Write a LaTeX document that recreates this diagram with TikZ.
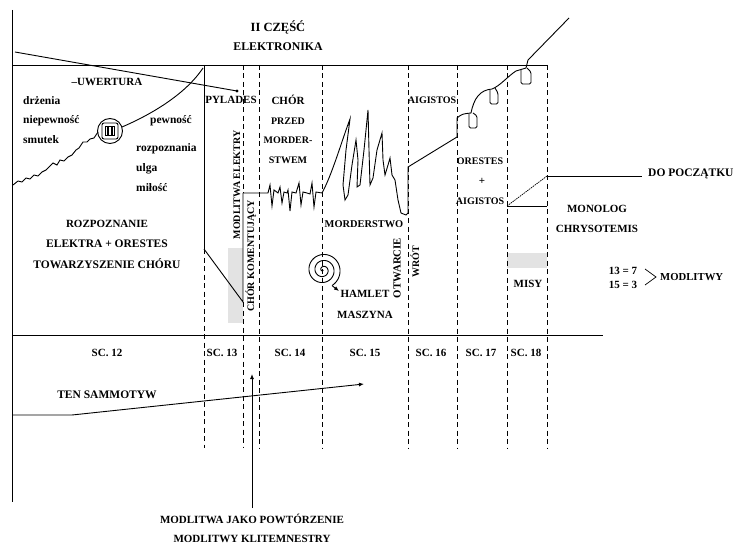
\documentclass[tikz,border=0pt]{standalone}
\usepackage{fontspec}
\setmainfont{Liberation Serif}
\usetikzlibrary{arrows.meta}
\begin{document}
\begin{tikzpicture}[x=1pt,y=-1pt,
  lbl/.style={font=\bfseries\fontsize{11}{13}\selectfont, inner sep=0pt},
  lnar/.style={font=\bfseries\fontsize{10}{12}\selectfont, inner sep=0pt},
  lsm/.style={font=\bfseries\fontsize{11.5}{13}\selectfont, inner sep=0pt},
  dsh/.style={dash pattern=on 5pt off 3.5pt, line width=0.9pt},
  ln/.style={line width=0.9pt},
  tip/.style={-{Latex[length=5pt,width=4pt]}},
  shade/.style={fill=black!11}]
\useasboundingbox (0,0) rectangle (735,545);

% grey bands
\fill[shade] (228,248) rectangle (243,323);
\fill[shade] (507,253) rectangle (547,268);

% axes and frame lines
\coordinate (axT) at (12,10);
\coordinate (axB) at (12,502);
\draw[ln] (axT) -- (axB);
\coordinate (topL) at (12,65);
\coordinate (topR) at (547,65);
\draw[ln] (topL) -- (topR);
\coordinate (midL) at (12,335);
\coordinate (midR) at (603,335);
\draw[ln] (midL) -- (midR);

% dividers
\foreach \x in {259,322,408,457,507,547} {\draw[dsh] (\x,65) -- (\x,448);}
\coordinate (d1a) at (204,65);
\coordinate (d1b) at (204,249);
\draw[ln] (d1a) -- (d1b);
\draw[dsh] (d1b) -- (204,448);
\coordinate (d2a) at (243,193);
\coordinate (d2b) at (243,302);
\draw[dsh] (243,65) -- (d2a);
\draw[dsh] (d2b) -- (243,448);
\draw[ln] (d1b) -- (d2b) -- (d2a);

% zigzag and spikes
\draw[ln] (d2a) -- (266,193) -- (268,193) -- (270,185) -- (272,206) -- (274,190) -- (278,193)
  -- (280,187) -- (282,203) -- (284,192) -- (287,193) -- (288,190) -- (290,211) -- (292,192)
  -- (296,193) -- (299,183) -- (301,205) -- (303,192) -- (307,193) -- (310,194)
  -- (312,183) -- (314,207) -- (316,192) -- (322,193)
  .. controls (332,175) and (342,140) .. (350,119)
  -- (346,150) -- (343,185) -- (345,200) -- (348,195) -- (352,165) -- (356,140)
  -- (358,160) -- (357,187) -- (360,185) -- (364,150) -- (368,110) -- (369,150)
  -- (370,185) -- (373,178) -- (377,150) -- (382,133) -- (383,160) -- (385,175)
  -- (388,165) -- (390,158) -- (392,175) -- (395,180) -- (398,200) -- (401,213)
  -- (406,215) -- (408,213) -- (408,167) -- (457,137) -- (457,118)
  .. controls (462,114) .. (471,113)
  .. controls (474,98) and (480,90) .. (492,89)
  .. controls (500,86) and (508,76) .. (516,71)
  -- (526,68) -- (528,60) coordinate (topend) -- (569,18) coordinate (farend);
% hooks
\draw[ln, rounded corners=1.5pt] (469,114) -- (469,128) -- (477,128) -- (477,116) -- (473,113);
\draw[ln, rounded corners=1.5pt] (490,90) -- (490,104) -- (498,104) -- (498,93) -- (495,88);
\draw[ln, rounded corners=1.5pt] (521,70) -- (521,84) -- (531,84) -- (531,72) -- (527,68);

% top-left falling line
\coordinate (fallA) at (15,52);
\coordinate (fallB) at (237,91);
\draw[ln] (fallA) -- (fallB);
\fill (fallB) circle (1.6);

% left rising wiggly curve with spiral
\coordinate (spL) at (110,131);
\draw[ln] (13,185) -- (18,181) -- (22,182) -- (26,178) -- (30,179) -- (34,175) -- (38,176)
  -- (42,172) -- (46,170) -- (50,166) -- (53,163) -- (57,165) -- (60,160) -- (64,161)
  -- (68,157) -- (72,155) -- (76,150) -- (79,148) -- (83,142) -- (87,142) -- (90,139)
  -- (94,138) -- (98,132);
\draw[ln] (122,127) .. controls (150,115) and (185,95) .. (203,68);
\draw[ln] (spL) circle (12.5);
\draw[ln, rounded corners=2pt] (102,123) rectangle (118,139);
\draw[ln] (105.5,126.5) rectangle (114.5,135.5);
\draw[line width=1.6pt] (108,127) -- (108,135) (112,127) -- (112,135);

% spiral near HAMLET
\coordinate (spC) at (323,270);
\draw[ln] plot[domain=0:3, samples=220, smooth]
  ({323 + 6*\x*cos(360*\x+60)}, {270 + 6*\x*sin(360*\x+60)});
\coordinate (spEnd) at (332,285.6);
\coordinate (hamArr) at (339,291);
\draw[ln, tip] (spEnd) -- (hamArr);

% AIGISTOS bracket and DO POCZATKU line
\coordinate (agA) at (507,206);
\coordinate (agB) at (547,206);
\coordinate (dpA) at (547,176);
\coordinate (dpB) at (642,176);
\draw[ln] (agA) -- (agB);
\draw[line width=0.7pt, dash pattern=on 1.5pt off 0.8pt] (agA) -- (dpA);
\draw[ln] (dpA) -- (dpB);

% TEN SAMMOTYW arrow
\coordinate (tsA) at (12,415);
\coordinate (tsB) at (72,415);
\coordinate (tsC) at (364,384);
\draw[ln, tip] (tsA) -- (tsB) -- (tsC);

% MODLITWA JAKO arrow
\coordinate (mjA) at (252,508);
\coordinate (mjB) at (252,374);
\draw[ln, tip] (mjA) -- (mjB);

% > bracket
\coordinate (brA) at (645,269);
\coordinate (brB) at (656,277);
\coordinate (brC) at (645,285);
\draw[line width=0.7pt] (brA) -- (brB) -- (brC);

% texts
\node[lbl, font=\bfseries\fontsize{12.5}{14}\selectfont] (t1) at (278,27) {II CZĘŚĆ};
\node[lbl, font=\bfseries\fontsize{11.8}{14}\selectfont] (t2) at (278,47) {ELEKTRONIKA};
\node[lbl] (uw) at (107,82) {–UWERTURA};
\node[lsm, anchor=west] (dr) at (23,101) {drżenia};
\node[lsm, anchor=west] (ni) at (23,121) {niepewność};
\node[lsm, anchor=west] (sm) at (23,140) {smutek};
\node[lsm, anchor=west] (pe) at (150,121) {pewność};
\node[lsm, anchor=west] (ro) at (136,149) {rozpoznania};
\node[lsm, anchor=west] (ul) at (136,169) {ulga};
\node[lsm, anchor=west] (mi) at (136,188) {miłość};
\node[lbl] (r1) at (107,224) {ROZPOZNANIE};
\node[lbl, font=\bfseries\fontsize{11.5}{13}\selectfont] (r2) at (107,244) {ELEKTRA + ORESTES};
\node[lbl, font=\bfseries\fontsize{11.5}{13}\selectfont] (r3) at (107,264) {TOWARZYSZENIE CHÓRU};
\node[lbl] (py) at (231,100) {PYLADES};
\node[lbl] (c1) at (288,100) {CHÓR};
\node[lnar] (c2) at (288,121) {PRZED};
\node[lnar] (c3) at (288,140) {MORDER-};
\node[lnar] (c4) at (288,160) {STWEM};
\node[lnar, rotate=90] (me) at (237,185) {MODLITWA ELEKTRY};
\node[lnar, rotate=90] (ck) at (251,256) {CHÓR KOMENTUJĄCY};
\node[lnar, font=\bfseries\fontsize{10.4}{12}\selectfont] (mo) at (364,224) {MORDERSTWO};
\node[lnar, rotate=90, font=\bfseries\fontsize{10.8}{12}\selectfont] (ot) at (397,268) {OTWARCIE};
\node[lnar, rotate=90] (wr) at (415,262) {WRÓT};
\node[lbl] (ha) at (365,294) {HAMLET};
\node[lbl] (ma) at (365,315) {MASZYNA};
\node[lnar] (ai) at (432,100) {AIGISTOS};
\node[lnar] (or) at (480,161) {ORESTES};
\node[lbl] (pl) at (482,181) {+};
\node[lnar] (ai2) at (480,201) {AIGISTOS};
\node[lbl, font=\bfseries\fontsize{11.5}{13}\selectfont, anchor=west] (dp) at (648,174) {DO POCZĄTKU};
\node[lbl] (mn) at (597,209) {MONOLOG};
\node[lbl] (ch) at (597,229) {CHRYSOTEMIS};
\node[lbl] (ms) at (528,284) {MISY};
\node[lbl] (e1) at (623,271) {13 = 7};
\node[lbl] (e2) at (623,285) {15 = 3};
\node[lbl, font=\bfseries\fontsize{10.7}{12}\selectfont, anchor=west] (mw) at (660,277) {MODLITWY};
\node[lbl] (s12) at (107,353) {SC. 12};
\node[lbl] (s13) at (222,353) {SC. 13};
\node[lbl] (s14) at (290,353) {SC. 14};
\node[lbl] (s15) at (365,353) {SC. 15};
\node[lbl] (s16) at (431,353) {SC. 16};
\node[lbl] (s17) at (481,353) {SC. 17};
\node[lbl] (s18) at (526,353) {SC. 18};
\node[lbl, font=\bfseries\fontsize{11.5}{13}\selectfont] (ts) at (107,395) {TEN SAMMOTYW};
\node[lbl] (mj1) at (252,519) {MODLITWA JAKO POWTÓRZENIE};
\node[lbl] (mj2) at (252,539) {MODLITWY KLITEMNESTRY};
\end{tikzpicture}
\end{document}
